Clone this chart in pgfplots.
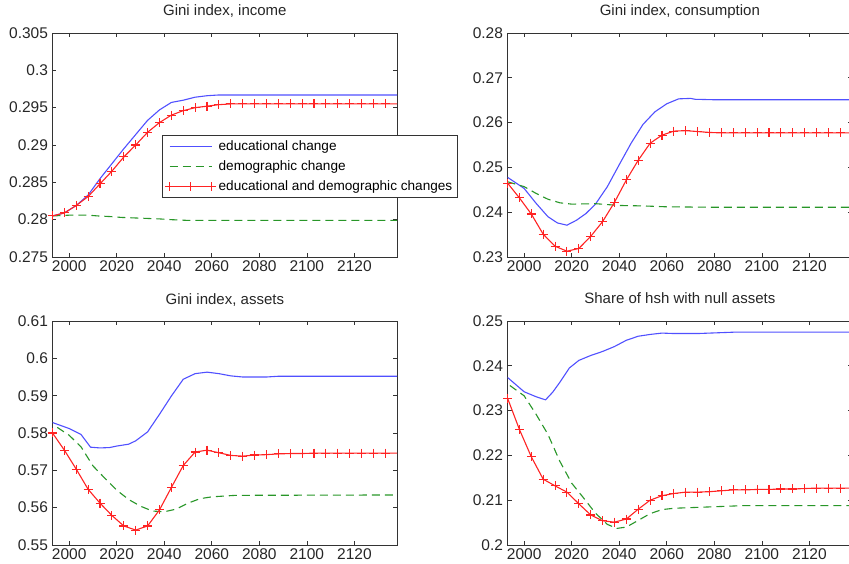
\documentclass[border=0pt]{standalone}
\usepackage{fontspec}
\setmainfont{Liberation Sans}
\usepackage{pgfplots}
\pgfplotsset{compat=1.18}
\definecolor{mblue}{RGB}{80,80,255}
\definecolor{mgreen}{RGB}{40,150,40}
\definecolor{mred}{RGB}{255,35,35}
\pgfplotsset{
  mstyle/.style={
    scale only axis, width=344.7pt, height=224pt, anchor=south west,
    xmin=1993, xmax=2138,
    xtick={2000,2020,...,2120},
    tick align=inside, major tick length=4pt,
    axis line style={black!80, line width=0.8pt},
    every tick/.style={black!80, line width=0.7pt},
    /pgf/number format/.cd, fixed, precision=3, 1000 sep={}, assume math mode=true,
    /pgfplots/.cd,
    tick label style={font=\fontsize{15.5}{18}\selectfont, black!85},
    yticklabel style={xshift=-1pt},
    title style={font=\fontsize{15}{17}\selectfont, black!85, at={(0.5,1)}, anchor=base, yshift=11pt},
    clip mode=individual,
    legend image code/.code={\draw[mark repeat=2,mark phase=2,##1] plot coordinates {(0pt,0pt) (21pt,0pt) (42pt,0pt)};},
  },
  sblue/.style={color=mblue, line width=1.1pt, no markers},
  sgreen/.style={color=mgreen, line width=1.1pt, dash pattern=on 8pt off 5pt, no markers},
  sred/.style={color=mred, line width=1.1pt, mark=+, mark size=4.5pt, mark options={solid, line width=1.1pt}, mark indices={1,...,29}},
}
\begin{document}
\begin{tikzpicture}
\path[use as bounding box] (0,0) rectangle (849pt,564pt);
\clip (0,0) rectangle (849pt,564pt);
% ---------------- top left
\begin{axis}[mstyle, at={(52.5pt,307pt)}, title={Gini index, income},
  ymin=0.275, ymax=0.305, ytick={0.275,0.28,0.285,0.29,0.295,0.3,0.305},
  legend style={at={(0.317,0.5436)}, anchor=north west, draw=black!80, line width=0.8pt,
    font=\fontsize{13.6}{15}\selectfont, inner xsep=3pt, inner ysep=3pt, row sep=3.5pt,
    nodes={inner sep=2.5pt}},
  legend cell align=left]
\addplot[sblue] coordinates {(1993,0.2805) (1998,0.2809) (2003,0.2819) (2008,0.2833) (2013,0.2855) (2018,0.2875) (2023,0.2895) (2028,0.2914) (2033,0.2933) (2038,0.2947) (2043,0.2957) (2048,0.2960) (2053,0.2964) (2058,0.2966) (2063,0.2967) (2138,0.2967)};
\addlegendentry{educational change}
\addplot[sgreen] coordinates {(1993,0.2805) (2000,0.2806) (2008,0.2806) (2012,0.2805) (2018,0.2804) (2022,0.2803) (2030,0.2802) (2038,0.2801) (2043,0.2800) (2050,0.2799) (2138,0.2799)};
\addlegendentry{demographic change}
\addplot[sred] coordinates {(1993,0.2805) (1998,0.2809) (2003,0.2819) (2008,0.2831) (2013,0.2848) (2018,0.2865) (2023,0.2884) (2028,0.2900) (2033,0.2917) (2038,0.2930) (2043,0.2940) (2048,0.2946) (2053,0.2950) (2058,0.2952) (2063,0.2954) (2068,0.2955) (2073,0.2955) (2078,0.2955) (2083,0.2955) (2088,0.2955) (2093,0.2955) (2098,0.2955) (2103,0.2955) (2108,0.2955) (2113,0.2955) (2118,0.2955) (2123,0.2955) (2128,0.2955) (2133,0.2955) (2138,0.2955)};
\addlegendentry{educational and demographic changes}
\end{axis}
% ---------------- top right
\begin{axis}[mstyle, at={(507.5pt,307pt)}, title={Gini index, consumption},
  ymin=0.23, ymax=0.28, ytick={0.23,0.24,0.25,0.26,0.27,0.28}]
\addplot[sblue] coordinates {(1993,0.2478) (2000,0.2453) (2005,0.2420) (2010,0.2390) (2014,0.2376) (2018,0.2371) (2022,0.2382) (2026,0.2397) (2030,0.2418) (2035,0.2457) (2040,0.2506) (2045,0.2554) (2050,0.2596) (2055,0.2624) (2060,0.2642) (2065,0.2653) (2070,0.2654) (2072,0.2652) (2080,0.2651) (2138,0.2651)};
\addplot[sgreen] coordinates {(1993,0.2468) (2000,0.2457) (2005,0.2442) (2010,0.2429) (2015,0.2421) (2020,0.2418) (2030,0.2419) (2040,0.2415) (2050,0.2414) (2060,0.2412) (2080,0.2411) (2138,0.2411)};
\addplot[sred] coordinates {(1993,0.2465) (1998,0.2432) (2003,0.2396) (2008,0.2351) (2013,0.2324) (2018,0.2313) (2023,0.2319) (2028,0.2346) (2033,0.2379) (2038,0.2422) (2043,0.2472) (2048,0.2516) (2053,0.2554) (2058,0.2572) (2063,0.2581) (2068,0.2582) (2073,0.2580) (2078,0.2578) (2083,0.2577) (2088,0.2577) (2093,0.2577) (2098,0.2577) (2103,0.2577) (2108,0.2577) (2113,0.2577) (2118,0.2577) (2123,0.2577) (2128,0.2577) (2133,0.2577) (2138,0.2577)};
\end{axis}
% ---------------- bottom left
\begin{axis}[mstyle, at={(52.5pt,19pt)}, title={Gini index, assets},
  ymin=0.55, ymax=0.61, ytick={0.55,0.56,0.57,0.58,0.59,0.6,0.61}]
\addplot[sblue] coordinates {(1993,0.5828) (2000,0.5812) (2005,0.5796) (2009,0.5762) (2013,0.5760) (2017,0.5761) (2020,0.5765) (2025,0.5770) (2028,0.5779) (2033,0.5803) (2038,0.5850) (2043,0.5899) (2048,0.5944) (2053,0.5959) (2058,0.5963) (2063,0.5959) (2068,0.5953) (2073,0.5950) (2083,0.5950) (2088,0.5952) (2138,0.5952)};
\addplot[sgreen] coordinates {(1995,0.5815) (2000,0.5794) (2005,0.5763) (2010,0.5712) (2015,0.5679) (2020,0.5647) (2025,0.5622) (2030,0.5604) (2035,0.5591) (2040,0.5589) (2045,0.5596) (2050,0.5612) (2055,0.5624) (2060,0.5629) (2070,0.5633) (2138,0.5634)};
\addplot[sred] coordinates {(1993,0.5800) (1998,0.5754) (2003,0.5703) (2008,0.5649) (2013,0.5612) (2018,0.5579) (2023,0.5551) (2028,0.5540) (2033,0.5551) (2038,0.5594) (2043,0.5654) (2048,0.5713) (2053,0.5749) (2058,0.5754) (2063,0.5747) (2068,0.5740) (2073,0.5738) (2078,0.5741) (2083,0.5742) (2088,0.5744) (2093,0.5745) (2098,0.5745) (2103,0.5746) (2108,0.5746) (2113,0.5746) (2118,0.5746) (2123,0.5746) (2128,0.5746) (2133,0.5746) (2138,0.5746)};
\end{axis}
% ---------------- bottom right
\begin{axis}[mstyle, at={(507.5pt,19pt)}, title={Share of hsh with null assets},
  ymin=0.2, ymax=0.25, ytick={0.2,0.21,0.22,0.23,0.24,0.25}]
\addplot[sblue] coordinates {(1993,0.2374) (2000,0.2342) (2005,0.2331) (2009,0.2324) (2012,0.2341) (2015,0.2363) (2019,0.2395) (2023,0.2412) (2028,0.2423) (2033,0.2432) (2038,0.2443) (2043,0.2457) (2048,0.2466) (2053,0.2470) (2058,0.2473) (2063,0.2472) (2073,0.2472) (2078,0.2473) (2088,0.2475) (2138,0.2475)};
\addplot[sgreen] coordinates {(1994,0.2356) (2000,0.2333) (2005,0.2292) (2010,0.2247) (2015,0.2187) (2020,0.2138) (2025,0.2105) (2030,0.2071) (2035,0.2046) (2039,0.2037) (2043,0.2040) (2048,0.2055) (2053,0.2070) (2058,0.2079) (2063,0.2082) (2073,0.2084) (2083,0.2086) (2093,0.2088) (2138,0.2088)};
\addplot[sred] coordinates {(1993,0.2328) (1998,0.2258) (2003,0.2197) (2008,0.2147) (2013,0.2132) (2018,0.2118) (2023,0.2092) (2028,0.2067) (2033,0.2054) (2038,0.2051) (2043,0.2058) (2048,0.2080) (2053,0.2100) (2058,0.2110) (2063,0.2115) (2068,0.2118) (2073,0.2118) (2078,0.2119) (2083,0.2121) (2088,0.2123) (2093,0.2123) (2098,0.2124) (2103,0.2124) (2108,0.2125) (2113,0.2125) (2118,0.2126) (2123,0.2127) (2128,0.2127) (2133,0.2127) (2138,0.2127)};
\end{axis}
\end{tikzpicture}
\end{document}
